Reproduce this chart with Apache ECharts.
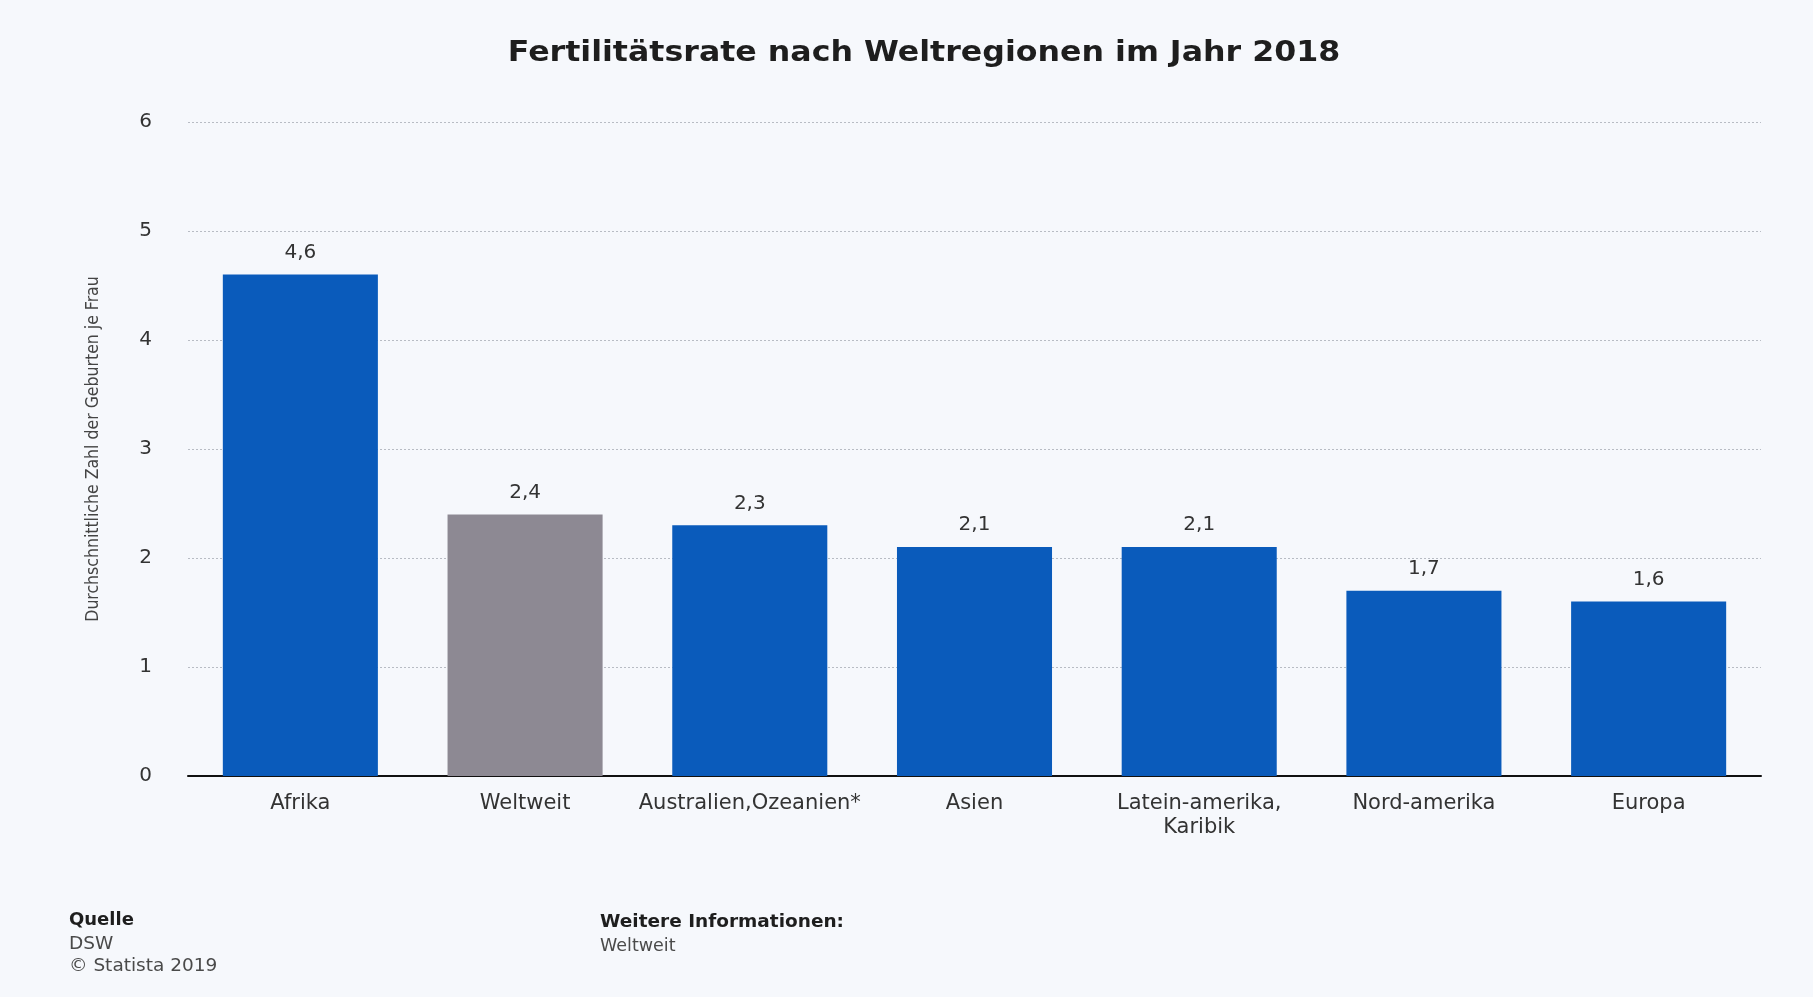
<!DOCTYPE html>
<html>
<head>
<meta charset="utf-8">
<script src="https://cdn.jsdelivr.net/npm/echarts@6/dist/echarts.min.js"></script>
<style>
  html, body { margin: 0; padding: 0; background: #f6f8fc; }
  #chart { width: 1813px; height: 997px; }
</style>
</head>
<body>
<div id="chart"></div>
<script>
// Regions and fertility rate (average births per woman), 2018
const regions = ['Afrika', 'Weltweit', 'Australien,Ozeanien*', 'Asien', 'Latein-amerika,\nKaribik', 'Nord-amerika', 'Europa'];
const fertility = [4.6, 2.4, 2.3, 2.1, 2.1, 1.7, 1.6];
const highlight = ['Weltweit'];
const yTicks = [0, 1, 2, 3, 4, 5, 6];

const BLUE = '#0a5bbb';
const GREY = '#8d8993';
const FONT = 'DejaVu Sans, Liberation Sans, sans-serif';

const chart = echarts.init(document.getElementById('chart'));

chart.setOption({
  backgroundColor: '#f6f8fc',
  textStyle: { fontFamily: FONT },
  grid: { left: 188, right: 52, top: 122, bottom: 221 },
  xAxis: {
    type: 'category',
    data: regions,
    axisLine: { lineStyle: { color: '#111', width: 2 } },
    axisTick: { show: false },
    axisLabel: { interval: 0, fontSize: 21, color: '#333', margin: 16, lineHeight: 24, fontFamily: FONT }
  },
  yAxis: {
    type: 'value',
    min: yTicks[0],
    max: yTicks[yTicks.length - 1],
    interval: 1,
    name: 'Durchschnittliche Zahl der Geburten je Frau',
    nameLocation: 'middle',
    nameGap: 86,
    nameRotate: 90,
    nameTextStyle: { fontSize: 17.5, color: '#444', fontFamily: 'DejaVu Sans Condensed, Liberation Sans Narrow, sans-serif' },
    axisLine: { show: false },
    axisTick: { show: false },
    axisLabel: { fontSize: 20, color: '#333', margin: 36, fontFamily: FONT },
    splitLine: { lineStyle: { color: '#b8bcc4', type: [2, 2], width: 1 } }
  },
  series: [{
    type: 'bar',
    barWidth: '69%',
    data: regions.map((r, i) => ({
      value: fertility[i],
      itemStyle: { color: highlight.includes(r) ? GREY : BLUE }
    })),
    label: {
      show: true,
      position: 'top',
      distance: 12,
      fontSize: 20,
      color: '#333',
      fontFamily: FONT,
      formatter: p => String(p.value).replace('.', ',')
    }
  }],
  graphic: [
    {
      type: 'text', x: 924, y: 54, scaleX: 1.13,
      style: {
        text: 'Fertilitätsrate nach Weltregionen im Jahr 2018',
        font: 'bold 28px DejaVu Sans, Liberation Sans, sans-serif',
        fill: '#1e1e1e', align: 'center', verticalAlign: 'middle'
      }
    },
    { type: 'text', left: 69, top: 911, style: { text: 'Quelle', font: 'bold 18px DejaVu Sans, sans-serif', fill: '#1e1e1e' } },
    { type: 'text', left: 69, top: 935, style: { text: 'DSW', font: '18.5px DejaVu Sans, sans-serif', fill: '#4a4a4a' } },
    { type: 'text', left: 69, top: 957, style: { text: '© Statista 2019', font: '18.5px DejaVu Sans, sans-serif', fill: '#4a4a4a' } },
    { type: 'text', left: 600, top: 913, style: { text: 'Weitere Informationen:', font: 'bold 18.5px DejaVu Sans, sans-serif', fill: '#1e1e1e' } },
    { type: 'text', left: 600, top: 937, style: { text: 'Weltweit', font: '17.5px DejaVu Sans, sans-serif', fill: '#4a4a4a' } }
  ]
});
</script>
</body>
</html>
